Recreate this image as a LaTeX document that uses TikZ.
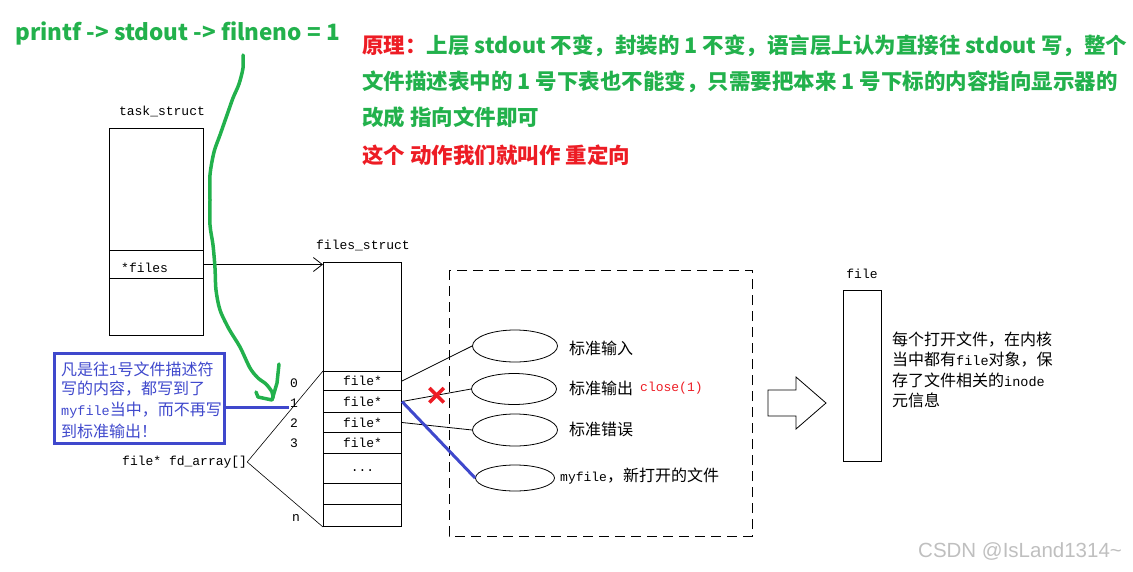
\documentclass[tikz,border=0pt]{standalone}
\usepackage{fontspec}
\setmainfont{Liberation Mono}
\newfontfamily\cjk{Noto Sans CJK SC}
\newfontfamily\wsans{Liberation Sans}
\usetikzlibrary{shapes.geometric,shapes.misc,arrows.meta}
\definecolor{pgreen}{RGB}{34,177,76}
\definecolor{pred}{RGB}{237,28,36}
\definecolor{pblue}{RGB}{63,72,204}
\tikzset{
  mono/.style={inner sep=0pt, font=\fontsize{13}{15}\selectfont},
  cn/.style={inner sep=0pt, font=\fontsize{16}{18}\selectfont\cjk},
  head/.style={inner sep=0pt, anchor=west, text=pgreen, font=\fontsize{21.5}{24}\selectfont\cjk\bfseries},
  box/.style={draw, line width=1pt, inner sep=0pt, anchor=north west},
  oval/.style={draw, ellipse, line width=0.8pt, inner sep=0pt},
  link/.style={line width=0.8pt},
  barb/.style={-{Straight Barb[length=9pt,width=14pt]}, line width=0.8pt},
}
\begin{document}
\begin{tikzpicture}[x=1pt,y=-1pt]
\useasboundingbox (0,0) rectangle (1133,571);
% title
\node[inner sep=0pt, anchor=west, text=pgreen, font=\fontsize{22.5}{25}\selectfont\cjk\bfseries] (title) at (15,33) {printf -> stdout -> filneno = 1};
% header
\node[head] (h1) at (362,46) {\textcolor{pred}{原理：}上层 stdout 不变，封装的 1 不变，语言层上认为直接往 stdout 写，整个};
\node[head] (h2) at (362,82) {文件描述表中的 1 号下表也不能变，只需要把本来 1 号下标的内容指向显示器的};
\node[head] (h3) at (362,117) {改成 指向文件即可};
\node[head, text=pred] (h4) at (362,155) {这个 动作我们就叫作 重定向};
% task_struct
\node[mono] (tslabel) at (162,111) {task\_struct};
\node[box, minimum width=94pt, minimum height=207pt] (ts) at (109,128) {};
\node[box, minimum width=94pt, minimum height=28pt] (tsfiles) at (109,250) {};
\node[mono, anchor=west] (filesp) at (121,268) {*files};
% files_struct
\node[mono] (fslabel) at (363,245) {files\_struct};
\node[box, minimum width=78pt, minimum height=264pt] (fs) at (323,262) {};
\node[box, minimum width=78pt, minimum height=19pt] (r0) at (323,371) {};
\node[box, minimum width=78pt, minimum height=22pt] (r1) at (323,390) {};
\node[box, minimum width=78pt, minimum height=20pt] (r2) at (323,412) {};
\node[box, minimum width=78pt, minimum height=21pt] (r3) at (323,432) {};
\node[box, minimum width=78pt, minimum height=30pt] (rd) at (323,453) {};
\node[box, minimum width=78pt, minimum height=21pt] (re1) at (323,483) {};
\node[box, minimum width=78pt, minimum height=22pt] (re2) at (323,504) {};
\node[mono] at (r0.center) {file*};
\node[mono] at (r1.center) {file*};
\node[mono] at (r2.center) {file*};
\node[mono] at (r3.center) {file*};
\node[mono] at ([yshift=-2pt]rd.center) {...};
\draw[barb] (tsfiles.east) -- (tsfiles.east -| fs.west);
% indices
\node[mono] (i0) at (294,383) {0};
\node[mono] (i1) at (294,403) {1};
\node[mono] (i2) at (294,423) {2};
\node[mono] (i3) at (294,443) {3};
\node[mono] (in) at (296,518) {n};
\node[mono, anchor=west] (fd) at (122,462) {file* fd\_array[]};
\draw[line width=0.6pt] (fd.east) -- (r0.north west);
\draw[line width=0.6pt] (fd.east) -- (fs.south west);
% dashed area
\draw[line width=1pt, dash pattern=on 10pt off 6pt] (449,270) rectangle (752,536);
\node[oval, minimum width=85pt, minimum height=32pt] (ein) at (515,346) {};
\node[oval, minimum width=85pt, minimum height=31pt] (eout) at (514,389) {};
\node[oval, minimum width=85pt, minimum height=32pt] (eerr) at (515,430) {};
\node[oval, minimum width=79pt, minimum height=26pt] (emy) at (515,478) {};
\node[cn, anchor=west] (lin) at (569,348) {标准输入};
\node[cn, anchor=west] (lout) at (569,388) {标准输出};
\node[mono, anchor=west, text=pred] (lclose) at (640,388) {close(1)};
\node[cn, anchor=west] (lerr) at (569,429) {标准错误};
\node[inner sep=0pt, anchor=west] (lmy) at (560,476) {\fontsize{13}{15}\selectfont myfile{\fontsize{16}{18}\selectfont\cjk ，新打开的文件}};
\draw[link] (r0.east) -- (ein.west);
\draw[link] (r1.east) -- (eout.west) node[pos=0.5, draw=pred, cross out, line width=3.5pt, minimum size=11pt, inner sep=0pt] (x) {};
\draw[link] (r2.east) -- (eerr.west);
\draw[pblue, line width=3pt] (r1.east) -- (emy.west);
% blue box
\node[draw=pblue, line width=3pt, anchor=north west, minimum width=170pt, minimum height=90pt, inner sep=0pt] (bb) at (53,352) {};
\begin{scope}[every node/.style={inner sep=0pt, anchor=west, text=pblue}]
\node (b1) at (61,369) {{\fontsize{16}{18}\selectfont\cjk 凡是往}{\fontsize{14}{16}\selectfont 1}{\fontsize{16}{18}\selectfont\cjk 号文件描述符}};
\node (b2) at (61,389) {{\fontsize{16}{18}\selectfont\cjk 写的内容，都写到了}};
\node (b3) at (61,410) {{\fontsize{13.5}{15}\selectfont myfile}{\fontsize{16}{18}\selectfont\cjk 当中，而不再写}};
\node (b4) at (61,431) {{\fontsize{16}{18}\selectfont\cjk 到标准输出！}};
\end{scope}
\coordinate (bend) at (289,407);
\draw[pblue, line width=3pt] (bb.east |- bend) -- (bend);
% green hand-drawn arrow
\draw[pgreen, line width=3.5pt, line cap=round, line join=round] plot[smooth, tension=0.5] coordinates {(243,55) (243,68) (239,84) (233,98) (227,115) (220,135) (214,152) (210,175) (210,200) (210,225) (213,245) (215,268) (216,290) (220,310) (229,329) (240,347) (250,368) (258,378) (266,384) (272,392) (273,398)};
\draw[pgreen, line width=3.5pt, line cap=round, line join=round] (279,364) -- (277,383) -- (272,400) -- (258,397) -- (256,392);
% hollow arrow
\draw[line width=0.8pt] (768,390) -- (796,390) -- (796,377) -- (826,403) -- (796,429) -- (796,416) -- (768,416) -- cycle;
% file
\node[mono] (flabel) at (862,274) {file};
\node[box, minimum width=38pt, minimum height=171pt] (file) at (843,290) {};
\begin{scope}[every node/.style={inner sep=0pt, anchor=west}]
\node (f1) at (892,340) {{\fontsize{16}{18}\selectfont\cjk 每个打开文件，在内核}};
\node (f2) at (892,360) {{\fontsize{16}{18}\selectfont\cjk 当中都有}{\fontsize{13.5}{15}\selectfont file}{\fontsize{16}{18}\selectfont\cjk 对象，保}};
\node (f3) at (892,380) {{\fontsize{16}{18}\selectfont\cjk 存了文件相关的}{\fontsize{13.5}{15}\selectfont inode}};
\node (f4) at (892,400) {{\fontsize{16}{18}\selectfont\cjk 元信息}};
\end{scope}
\node[inner sep=0pt, anchor=west, text=black!25, font=\fontsize{20.5}{22}\selectfont\wsans] (wm) at (918,551) {CSDN @IsLand1314\textasciitilde};
\end{tikzpicture}
\end{document}
